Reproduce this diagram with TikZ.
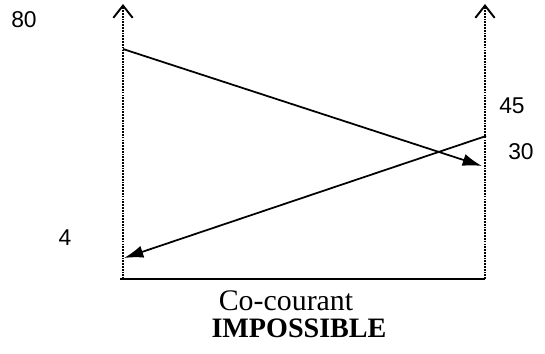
\documentclass[tikz,border=0pt]{standalone}
\usepackage{fontspec}
\setmainfont{Liberation Serif}
\newfontfamily\numfont{Liberation Sans}
\usetikzlibrary{arrows.meta}

\begin{document}
\begin{tikzpicture}[x=.02cm,y=-.02cm,
  axis/.style={dash pattern=on 1pt off .6pt,line width=1.1pt,-{Straight Barb[length=7pt,width=11pt]}},
  flow/.style={line width=1pt,-{Latex[length=11pt,width=7pt]}},
  val/.style={inner sep=0pt,font=\numfont\fontsize{13}{15}\selectfont}]
  \useasboundingbox (0,0) rectangle (545,353);
  \coordinate (o1) at (123,279);
  \coordinate (t1) at (123,4);
  \coordinate (o2) at (485,279);
  \coordinate (t2) at (485,4);
  \draw[axis] (o1)--(t1);
  \draw[axis] (o2)--(t2);
  \draw[line width=1.2pt] (120,279) -- (o2);

  \coordinate (h1) at (123,49);
  \coordinate (h2) at (482,166);
  \coordinate (c1) at (486,136);
  \coordinate (c2) at (124,258);
  \draw[flow] (h1)--(h2);
  \draw[flow] (c1)--(c2);

  \node[val] (v80) at (24,20) {80};
  \node[val] (v45) at (512,106) {45};
  \node[val] (v30) at (521,152) {30};
  \node[val] (v4) at (65,238) {4};
  \node[inner sep=0pt,font=\fontsize{17}{19}\selectfont] (cc) at (286,301) {Co-courant};
  \node[inner sep=0pt,font=\bfseries\fontsize{16}{18}\selectfont] (imp) at (299,328) {IMPOSSIBLE};
\end{tikzpicture}
\end{document}
